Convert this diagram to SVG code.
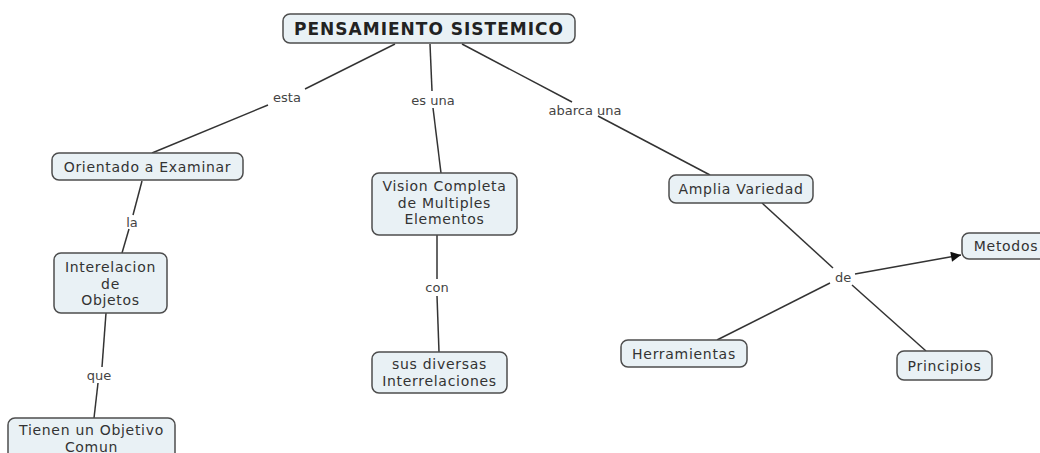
<svg xmlns="http://www.w3.org/2000/svg" width="1040" height="453" viewBox="0 0 1040 453">
<style>
.n{fill:#e9f1f5;stroke:#4d4d4d;stroke-width:1.5}
.t{font-family:"DejaVu Sans",Verdana,sans-serif;font-size:14px;letter-spacing:0.7px;fill:#333;text-anchor:middle}
.tt{font-family:"DejaVu Sans",Verdana,sans-serif;font-size:17px;font-weight:bold;letter-spacing:1px;fill:#222;text-anchor:middle}
.l{font-family:"DejaVu Sans",Verdana,sans-serif;font-size:13px;fill:#444;text-anchor:middle}
.c{stroke:#333;stroke-width:1.5;fill:none}
</style>
<defs>
<marker id="arr" viewBox="0 0 10 10" refX="10" refY="5" markerWidth="12" markerHeight="10" markerUnits="userSpaceOnUse" orient="auto"><path d="M0,0 L10,5 L0,10 z" fill="#111"/></marker>
</defs>
<rect width="1040" height="453" fill="#fff"/>
<g id="connectors">
<line class="c" x1="395" y1="44" x2="305" y2="89"/>
<line class="c" x1="268" y1="105" x2="152" y2="153"/>
<line class="c" x1="430" y1="44" x2="432" y2="91"/>
<line class="c" x1="433" y1="108" x2="441" y2="173"/>
<line class="c" x1="462" y1="44" x2="572" y2="102"/>
<line class="c" x1="598" y1="116" x2="710" y2="175"/>
<line class="c" x1="142" y1="181" x2="133" y2="215"/>
<line class="c" x1="129" y1="229" x2="122" y2="253"/>
<line class="c" x1="106" y1="313" x2="102" y2="367"/>
<line class="c" x1="98" y1="383" x2="94" y2="418"/>
<line class="c" x1="437" y1="235" x2="437" y2="279"/>
<line class="c" x1="437" y1="296" x2="439" y2="352"/>
<line class="c" x1="762" y1="203" x2="833" y2="268"/>
<line class="c" x1="855" y1="274" x2="961" y2="255" marker-end="url(#arr)"/>
<line class="c" x1="830" y1="283" x2="717" y2="340"/>
<line class="c" x1="852" y1="285" x2="926" y2="351"/>
<text class="l" x="287" y="101.5">esta</text>
<text class="l" x="433" y="104.5">es una</text>
<text class="l" x="585" y="114.5">abarca una</text>
<text class="l" x="132" y="226.5">la</text>
<text class="l" x="99" y="379.5">que</text>
<text class="l" x="437" y="291.5">con</text>
<text class="l" x="843" y="281.5">de</text>
</g>
<g id="n-title"><rect class="n" x="283" y="14" width="292" height="29" rx="7"/><text class="tt" x="429" y="34.5">PENSAMIENTO SISTEMICO</text></g>
<g id="n-orientado"><rect class="n" x="52" y="153" width="191" height="27" rx="7"/><text class="t" x="147.5" y="171.5">Orientado a Examinar</text></g>
<g id="n-interelacion"><rect class="n" x="54" y="253" width="113" height="60" rx="7"/><text class="t" x="110.5" y="272">Interelacion</text><text class="t" x="110.5" y="288.5">de</text><text class="t" x="110.5" y="305">Objetos</text></g>
<g id="n-tienen"><rect class="n" x="8" y="418" width="167" height="50" rx="7"/><text class="t" x="91.5" y="435">Tienen un Objetivo</text><text class="t" x="91.5" y="451.5">Comun</text></g>
<g id="n-vision"><rect class="n" x="372" y="173" width="145" height="62" rx="7"/><text class="t" x="444.5" y="191">Vision Completa</text><text class="t" x="444.5" y="207.5">de Multiples</text><text class="t" x="444.5" y="224">Elementos</text></g>
<g id="n-sus"><rect class="n" x="372" y="352" width="135" height="41" rx="7"/><text class="t" x="439.5" y="369">sus diversas</text><text class="t" x="439.5" y="385.5">Interrelaciones</text></g>
<g id="n-amplia"><rect class="n" x="669" y="175" width="144" height="28" rx="7"/><text class="t" x="741" y="194">Amplia Variedad</text></g>
<g id="n-metodos"><rect class="n" x="962" y="233" width="96" height="26" rx="7"/><text class="t" x="1006" y="251">Metodos</text></g>
<g id="n-herramientas"><rect class="n" x="621" y="340" width="126" height="27" rx="7"/><text class="t" x="684" y="358.5">Herramientas</text></g>
<g id="n-principios"><rect class="n" x="897" y="351" width="95" height="29" rx="7"/><text class="t" x="944.5" y="370.5">Principios</text></g>
</svg>
